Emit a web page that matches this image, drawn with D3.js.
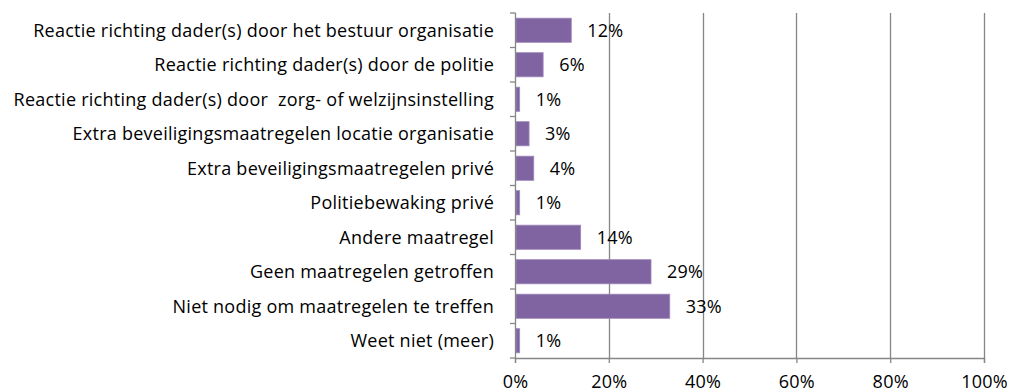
<!DOCTYPE html>
<html>
<head>
<meta charset="utf-8">
<script src="https://cdn.jsdelivr.net/npm/d3@7"></script>
<style>
  html, body { margin: 0; padding: 0; background: #fff; }
  svg { display: block; }
  text { font-family: "Open Sans", "Noto Sans", sans-serif; fill: #000; white-space: pre; }
</style>
</head>
<body>
<svg id="chart" width="1009" height="392"></svg>
<script>
// Categories, top to bottom
const categories = [
  "Reactie richting dader(s) door het bestuur organisatie",
  "Reactie richting dader(s) door de politie",
  "Reactie richting dader(s) door  zorg- of welzijnsinstelling",
  "Extra beveiligingsmaatregelen locatie organisatie",
  "Extra beveiligingsmaatregelen privé",
  "Politiebewaking privé",
  "Andere maatregel",
  "Geen maatregelen getroffen",
  "Niet nodig om maatregelen te treffen",
  "Weet niet (meer)"
];
// Share of respondents, percent
const values = [12, 6, 1, 3, 4, 1, 14, 29, 33, 1];
// Axis ticks, percent
const xTicks = [0, 20, 40, 60, 80, 100];

const svg = d3.select("#chart");
const margin = { top: 13, left: 515, right: 25, bottom: 34 };
const W = 1009, H = 392;
const plotW = W - margin.left - margin.right;
const plotH = H - margin.top - margin.bottom;
const gridColor = "#868686";
const barColor = "#8064A2";
const fontSize = 18;
const spacing = 0.25;

const x = d3.scaleLinear().domain([0, 100]).range([0, plotW]);
const y = d3.scaleBand().domain(categories).range([0, plotH]).paddingInner(0.3).paddingOuter(0.15);

const g = svg.append("g").attr("transform", `translate(${margin.left},${margin.top})`);

// Vertical gridlines
g.append("g").selectAll("line")
  .data(xTicks.filter(t => t > 0))
  .join("line")
  .attr("x1", d => Math.round(x(d)) + 0.5)
  .attr("x2", d => Math.round(x(d)) + 0.5)
  .attr("y1", 0).attr("y2", plotH)
  .attr("stroke", gridColor).attr("stroke-width", 1.3);

// Bars
g.append("g").selectAll("rect")
  .data(values)
  .join("rect")
  .attr("x", x(0) + 1)
  .attr("y", (d, i) => y(categories[i]))
  .attr("width", d => x(d) - 1)
  .attr("height", y.bandwidth())
  .attr("fill", barColor)
  .attr("stroke", "#9d88bb").attr("stroke-width", 0.8);

// Value labels
g.append("g").selectAll("text")
  .data(values)
  .join("text")
  .attr("x", d => x(d) + 16)
  .attr("y", (d, i) => y(categories[i]) + y.bandwidth() / 2)
  .attr("dy", "0.36em")
  .attr("font-size", fontSize)
  .attr("letter-spacing", spacing)
  .text(d => d + "%");

// Y axis: line with ticks between categories
const yAxis = g.append("g");
yAxis.append("line")
  .attr("x1", 0.5).attr("x2", 0.5).attr("y1", 0).attr("y2", plotH)
  .attr("stroke", gridColor).attr("stroke-width", 1.3);
const step = plotH / categories.length;
yAxis.selectAll("line.tick")
  .data(d3.range(categories.length + 1))
  .join("line").attr("class", "tick")
  .attr("x1", -5).attr("x2", 0.5)
  .attr("y1", i => i * step).attr("y2", i => i * step)
  .attr("stroke", gridColor).attr("stroke-width", 1.3);
yAxis.selectAll("text")
  .data(categories)
  .join("text")
  .attr("x", -21)
  .attr("y", d => y(d) + y.bandwidth() / 2)
  .attr("dy", "0.36em")
  .attr("text-anchor", "end")
  .attr("font-size", fontSize)
  .attr("letter-spacing", spacing)
  .text(d => d);

// X axis
const xAxis = g.append("g").attr("transform", `translate(0,${plotH})`)
  .call(d3.axisBottom(x).tickValues(xTicks).tickFormat(d => d + "%").tickSize(5).tickPadding(14));
xAxis.select(".domain").attr("stroke", gridColor).attr("stroke-width", 1.3);
xAxis.selectAll(".tick line").attr("stroke", gridColor).attr("stroke-width", 1.3);
xAxis.selectAll(".tick text")
  .attr("dy", "0.62em")
  .attr("font-size", fontSize)
  .attr("letter-spacing", spacing)
  .attr("font-family", "'Open Sans', 'Noto Sans', sans-serif").attr("fill", "#000");
</script>
</body>
</html>
